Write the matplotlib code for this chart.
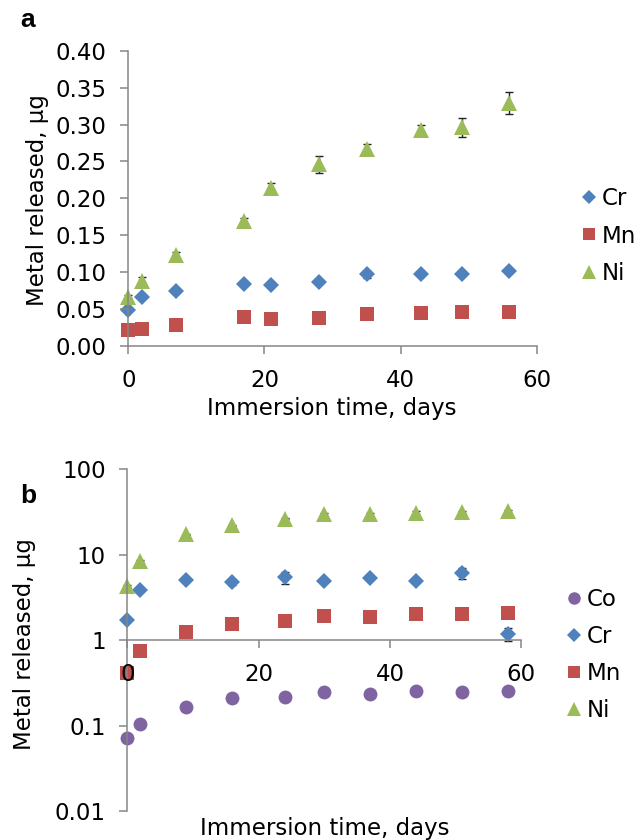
import matplotlib
matplotlib.use("Agg")
import matplotlib.pyplot as plt
from matplotlib.ticker import FixedLocator, FixedFormatter, NullLocator

plt.rcParams['font.family'] = ['DejaVu Sans']

# ---------------- Panel a data ----------------
days_a = [0, 2, 7, 17, 21, 28, 35, 43, 49, 56]
cr_a = [0.049, 0.067, 0.075, 0.084, 0.083, 0.087, 0.097, 0.097, 0.098, 0.101]
cr_a_err = [0.001, 0.001, 0.001, 0.001, 0.001, 0.002, 0.005, 0.001, 0.001, 0.001]
mn_a = [0.022, 0.023, 0.028, 0.039, 0.036, 0.038, 0.044, 0.045, 0.046, 0.046]
ni_a = [0.067, 0.088, 0.123, 0.169, 0.214, 0.246, 0.267, 0.292, 0.296, 0.329]
ni_a_err = [0.002, 0.005, 0.004, 0.005, 0.007, 0.012, 0.006, 0.007, 0.013, 0.015]

# ---------------- Panel b data ----------------
days_b = [0, 2, 9, 16, 24, 30, 37, 44, 51, 58]
co_b = [0.071, 0.105, 0.166, 0.211, 0.217, 0.244, 0.235, 0.253, 0.244, 0.251]
cr_b = [1.73, 3.85, 5.08, 4.77, 5.46, 4.99, 5.32, 4.86, 6.03, 1.19]
cr_b_err = [0.05, 0.2, 0.1, 0.4, 0.9, 0.1, 0.2, 0.1, 0.9, 0.2]
mn_b = [0.41, 0.74, 1.26, 1.55, 1.68, 1.94, 1.89, 2.01, 2.03, 2.09]
ni_b = [4.29, 8.5, 17.4, 22.2, 26.5, 29.6, 29.9, 30.7, 31.5, 32.1]
ni_b_err = [0.1, 0.2, 0.3, 0.3, 0.3, 1.5, 1.2, 1.4, 1.0, 1.3]

yticks_a = [0.00, 0.05, 0.10, 0.15, 0.20, 0.25, 0.30, 0.35, 0.40]
ytick_labels_a = ["0.00", "0.05", "0.10", "0.15", "0.20", "0.25", "0.30", "0.35", "0.40"]
yticks_b = [0.01, 0.1, 1, 10, 100]
ytick_labels_b = ["0.01", "0.1", "1", "10", "100"]
xticks = [0, 20, 40, 60]

C_CO = '#8064A2'
C_CR = '#4F81BD'
C_MN = '#C0504D'
C_NI = '#9BBB59'
SPINE = '#868686'
FS = 16.5

fig = plt.figure(figsize=(6.41, 8.4), dpi=100)

W, H = 641, 840


def axes_px(left, top, right, bottom):
    return fig.add_axes([left / W, (H - bottom) / H, (right - left) / W, (bottom - top) / H])


def style(ax):
    for s in ['top', 'right']:
        ax.spines[s].set_visible(False)
    for s in ['left', 'bottom']:
        ax.spines[s].set_color(SPINE)
        ax.spines[s].set_linewidth(1.1)
    ax.tick_params(axis='both', colors=SPINE, labelcolor='black', labelsize=FS,
                   length=5.5, width=1.1, direction='out')
    ax.tick_params(axis='x', pad=11)
    ax.tick_params(axis='y', pad=10)
    ax.set_axisbelow(False)


def series(ax, x, y, err, marker, color, ms, label):
    if err is not None:
        ax.errorbar(x, y, yerr=err, fmt='none', ecolor='#222222', elinewidth=1.0,
                    capsize=3.2, capthick=1.0, clip_on=False, zorder=1.8)
    ax.plot(x, y, linestyle='none', marker=marker, color=color, markersize=ms,
            markeredgewidth=0, label=label, clip_on=False, zorder=2)


def legend(ax, anchor, spacing):
    ax.legend(loc='center left', bbox_to_anchor=anchor,
              frameon=False, fontsize=FS, handletextpad=0.05, handlelength=1.0,
              labelspacing=spacing, borderaxespad=0, borderpad=0, markerscale=0.9)


# ---------------- Panel a ----------------
axa = axes_px(128.3, 50.7, 536.7, 346)
style(axa)
series(axa, days_a, cr_a, cr_a_err, 'D', C_CR, 8.2, 'Cr')
series(axa, days_a, mn_a, None, 's', C_MN, 9.5, 'Mn')
series(axa, days_a, ni_a, ni_a_err, '^', C_NI, 11, 'Ni')
axa.set_xlim(0, 60)
axa.set_ylim(0, 0.40)
axa.set_xticks(xticks)
axa.set_yticks(yticks_a)
axa.set_yticklabels(ytick_labels_a)
axa.set_xlabel('Immersion time, days', fontsize=FS)
axa.set_ylabel('Metal released, µg', fontsize=FS)
axa.yaxis.set_label_coords((38 - 128.3) / 408.4, (346 - 200) / 295.3)
axa.xaxis.set_label_coords((332 - 128.3) / 408.4, -(408 - 346) / 295.3)
axa.xaxis.label.set_va('center')
axa.yaxis.label.set_va('center')
legend(axa, ((578 - 128.3) / 408.4, (346 - 236) / 295.3), 0.62)

fig.text(20 / W, 1 - 20 / H, 'a', fontsize=19, fontweight='bold',
         family='Liberation Sans', ha='left', va='center')

# ---------------- Panel b ----------------
axb = axes_px(127.3, 469.3, 521.3, 811)
style(axb)
axb.set_yscale('log')
series(axb, days_b, co_b, None, 'o', C_CO, 10, 'Co')
series(axb, days_b, cr_b, cr_b_err, 'D', C_CR, 8.2, 'Cr')
series(axb, days_b, mn_b, None, 's', C_MN, 9.5, 'Mn')
series(axb, days_b, ni_b, ni_b_err, '^', C_NI, 11, 'Ni')
axb.set_xlim(0, 60)
axb.set_ylim(0.01, 100)
axb.spines['bottom'].set_position(('data', 1))
axb.set_xticks(xticks)
axb.yaxis.set_major_locator(FixedLocator(yticks_b))
axb.yaxis.set_major_formatter(FixedFormatter(ytick_labels_b))
axb.yaxis.set_minor_locator(NullLocator())
axb.set_xlabel('Immersion time, days', fontsize=FS)
axb.set_ylabel('Metal released, µg', fontsize=FS)
axb.yaxis.set_label_coords((24 - 127.3) / 394, (811 - 644) / 341.7)
axb.xaxis.set_label_coords((325 - 127.3) / 394, -(829 - 811) / 341.7)
axb.xaxis.label.set_va('center')
axb.yaxis.label.set_va('center')
legend(axb, ((563 - 127.3) / 394, (811 - 655) / 341.7), 0.62)

fig.text(20 / W, 1 - 496 / H, 'b', fontsize=19, fontweight='bold',
         family='Liberation Sans', ha='left', va='center')

fig.savefig('out.png', dpi=100)
